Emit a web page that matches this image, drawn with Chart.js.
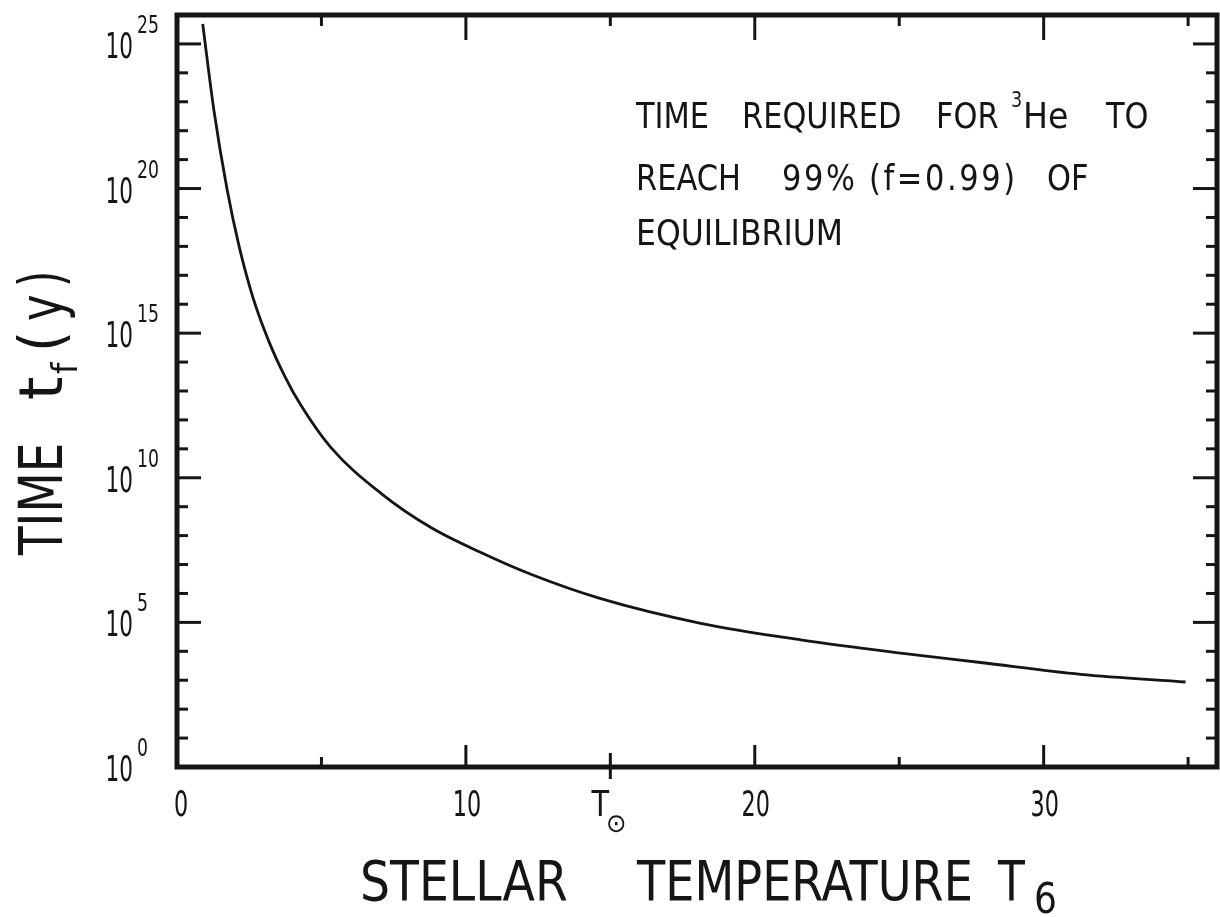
<!DOCTYPE html>
<html lang="en">
<head>
<meta charset="utf-8">
<title>Time required for 3He to reach equilibrium</title>
<script src="https://cdn.jsdelivr.net/npm/chart.js@4.4.1/dist/chart.umd.min.js"></script>
<style>
    html, body { margin: 0; padding: 0; background: #fff; }
    canvas { display: block; }
</style>
</head>
<body>
<canvas id="tfChart" width="1220" height="917"></canvas>
<script>
// T6 (stellar temperature in 10^6 K) against t_f in years
const temperatures = [0.89, 1.28, 1.73, 2.15, 2.63, 3.18, 3.74, 4.29, 5.33, 7.06, 8.79, 10.52, 12.25, 14.67, 18.13, 21.59, 25.05, 27.82, 31.28, 34.91];
const timesYears = [4.9e25, 4.9e22, 9.8e19, 1.0e18, 1.7e16, 5.2e14, 3.1e13, 3.2e12, 1.1e11, 2.9e9, 1.9e8, 2.6e7, 4.6e6, 6.6e5, 9.3e4, 2.5e4, 8.7e3, 4.1e3, 1.6e3, 8.7e2];

// axis ticks
const xLabelTicks = [0, 10, 20, 30];
const xLabelTexts = ["0", "10", "20", "30"];
const xMinorTicks = [5, 25, 35];
const sunTemperature = 15;
const yLabelExponents = [0, 5, 10, 15, 20, 25];

const INK = "#151515";
const FONT = '"DejaVu Sans", "Liberation Sans", sans-serif';

// the figure uses narrow drafting lettering, so squeeze the glyphs horizontally
function drawText(ctx, text, x, y, size, sx, align = "left", spacing = 0) {
    ctx.font = `${size}px ${FONT}`;
    ctx.letterSpacing = `${spacing}px`;
    const w = ctx.measureText(text).width * sx;
    const left = align === "right" ? x - w : align === "center" ? x - w / 2 : x;
    ctx.save();
    ctx.translate(left, y);
    ctx.scale(sx, 1);
    ctx.textAlign = "left";
    ctx.textBaseline = "alphabetic";
    ctx.fillText(text, 0, 0);
    ctx.restore();
    ctx.letterSpacing = "0px";
    return w;
}

const paperFrame = {
    id: "paperFrame",
    afterDraw(chart) {
        const { ctx, chartArea: a } = chart;
        const xs = chart.scales.x;
        const ys = chart.scales.y;
        const seg = (x1, y1, x2, y2) => {
            ctx.beginPath();
            ctx.moveTo(x1, y1);
            ctx.lineTo(x2, y2);
            ctx.stroke();
        };

        ctx.save();
        ctx.strokeStyle = INK;
        ctx.fillStyle = INK;

        // ── ticks on all four sides, pointing inward ──
        ctx.lineWidth = 3;
        for (let n = 1; n <= 25; n++) {
            const py = ys.getPixelForValue(Math.pow(10, n));
            const len = n % 5 === 0 ? 24 : 11;
            seg(a.left, py, a.left + len, py);
            seg(a.right, py, a.right - len, py);
        }
        xLabelTicks.slice(1).forEach((v) => {
            const px = xs.getPixelForValue(v);
            seg(px, a.bottom, px, a.bottom - 22);
            seg(px, a.top, px, a.top + 25);
        });
        xMinorTicks.forEach((v) => {
            const px = xs.getPixelForValue(v);
            seg(px, a.bottom, px, a.bottom - 10);
            seg(px, a.top, px, a.top + 11);
        });
        const sunX = xs.getPixelForValue(sunTemperature);
        seg(sunX, a.bottom - 14, sunX, a.bottom + 12);
        seg(sunX, a.top, sunX, a.top + 11);

        // ── frame ──
        ctx.lineWidth = 5;
        ctx.strokeRect(a.left, a.top, a.right - a.left, a.bottom - a.top);

        // ── y tick labels 10^n ──
        yLabelExponents.forEach((e) => {
            const py = ys.getPixelForValue(Math.pow(10, e));
            drawText(ctx, "10", a.left - 44, py + 14, 36, 0.6, "right");
            drawText(ctx, String(e), a.left - 40, py - 11, 24, 0.72);
        });

        // ── x tick labels ──
        xLabelTicks.forEach((v, i) => {
            const px = xs.getPixelForValue(v);
            drawText(ctx, xLabelTexts[i], px + (v === 0 ? 4 : 1), a.bottom + 49, 36, 0.62, "center");
        });
        drawText(ctx, "T", sunX - 10, a.bottom + 49, 36, 0.8, "center");
        drawText(ctx, "⊙", sunX + 6, a.bottom + 65, 26, 0.95, "center");

        // ── x axis title ──
        drawText(ctx, "STELLAR", 360, 900, 55, 0.86);
        drawText(ctx, "TEMPERATURE", 637, 900, 55, 0.84);
        drawText(ctx, "T", 998, 900, 55, 0.8);
        drawText(ctx, "6", 1034, 913, 42, 0.86);

        // ── y axis title, rotated ──
        ctx.save();
        ctx.translate(62, 0);
        ctx.rotate(-Math.PI / 2);
        drawText(ctx, "TIME", -555, 0, 60, 0.78);
        drawText(ctx, "t", -400, 0, 60, 1.0);
        drawText(ctx, "f", -374, 15, 36, 0.9);
        drawText(ctx, "(", -352, 0, 60, 0.9);
        drawText(ctx, "y", -321, 0, 60, 0.75);
        drawText(ctx, ")", -287, 0, 60, 0.7);
        ctx.restore();

        // ── annotation ──
        drawText(ctx, "TIME", 636, 128, 35, 0.87);
        drawText(ctx, "REQUIRED", 742, 128, 35, 0.87);
        drawText(ctx, "FOR", 936, 128, 35, 0.87);
        drawText(ctx, "3", 1011, 107, 22, 0.8);
        drawText(ctx, "He", 1023, 128, 35, 0.95);
        drawText(ctx, "TO", 1106, 128, 35, 0.87);

        drawText(ctx, "REACH", 636, 190, 35, 0.87);
        drawText(ctx, "99%", 782, 190, 35, 0.87, "left", 3);
        drawText(ctx, "(f=0.99)", 869, 190, 35, 0.87, "left", 3);
        drawText(ctx, "OF", 1047, 190, 35, 0.87);

        drawText(ctx, "EQUILIBRIUM", 636, 245, 35, 0.9);

        ctx.restore();
    },
};

new Chart(document.getElementById("tfChart"), {
    type: "line",
    data: {
        datasets: [{
            data: temperatures.map((t, i) => ({ x: t, y: timesYears[i] })),
            borderColor: INK,
            borderWidth: 2.8,
            pointRadius: 0,
            fill: false,
            cubicInterpolationMode: "monotone",
        }],
    },
    options: {
        responsive: false,
        animation: false,
        events: [],
        layout: { padding: { top: 15, right: 3, left: 0, bottom: 0 } },
        plugins: { legend: { display: false }, tooltip: { enabled: false } },
        scales: {
            x: {
                type: "linear",
                min: 0,
                max: 36,
                grid: { display: false },
                border: { display: false },
                ticks: { display: false },
                afterFit: (s) => { s.height = 150; },
            },
            y: {
                type: "logarithmic",
                min: 1,
                max: 1e26,
                grid: { display: false },
                border: { display: false },
                ticks: { display: false },
                afterFit: (s) => { s.width = 177; },
            },
        },
    },
    plugins: [paperFrame],
});
</script>
</body>
</html>
